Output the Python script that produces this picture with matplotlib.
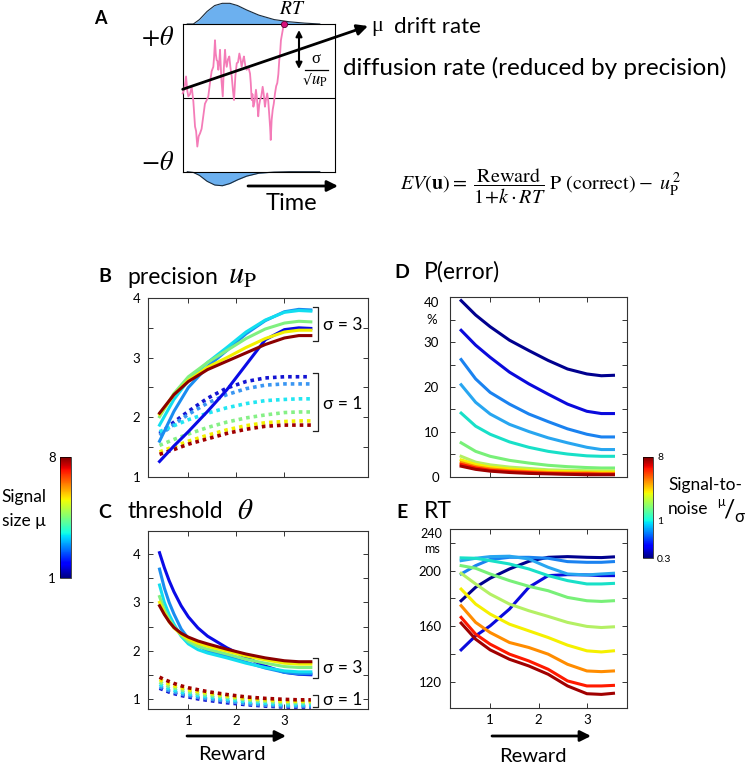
import numpy as np
import matplotlib.pyplot as plt
from matplotlib.colors import Normalize, LogNorm
from matplotlib.cm import ScalarMappable

plt.rcParams['font.family'] = ['Lato', 'DejaVu Sans']
plt.rcParams['mathtext.fontset'] = 'stix'

# ---------------- data ----------------
# panel A: one example evidence trace (time 0..1, bound at +/-1) and RT densities
walk_t = [0.000, 0.011, 0.022, 0.030, 0.037, 0.048, 0.059, 0.070, 0.081, 0.088,
          0.096, 0.105, 0.114, 0.124, 0.135, 0.146, 0.158, 0.168, 0.179, 0.190,
          0.201, 0.206, 0.212, 0.217, 0.223, 0.228, 0.234, 0.240, 0.245, 0.254,
          0.263, 0.270, 0.278, 0.283, 0.289, 0.297, 0.306, 0.314, 0.322, 0.330,
          0.337, 0.346, 0.355, 0.363, 0.372, 0.380, 0.387, 0.395, 0.402, 0.411,
          0.420, 0.431, 0.442, 0.447, 0.453, 0.458, 0.464, 0.472, 0.481, 0.488,
          0.496, 0.502, 0.508, 0.516, 0.525, 0.532, 0.540, 0.547, 0.555, 0.562,
          0.569, 0.574, 0.578, 0.584, 0.591, 0.598, 0.606, 0.614, 0.621, 0.628,
          0.634, 0.640, 0.645, 0.651, 0.657, 0.661, 0.665]
walk_e = [0.06, 0.12, 0.29, 0.10, 0.02, 0.05, 0.15, -0.05, -0.39, -0.45,
          -0.66, -0.52, -0.48, -0.42, -0.25, -0.08, -0.03, 0.02, 0.20, 0.36,
          0.42, 0.55, 0.78, 0.60, 0.51, 0.50, 0.38, 0.48, 0.65, 0.25,
          0.02, 0.40, 0.65, 0.50, 0.42, 0.52, 0.56, 0.40, 0.29, 0.10,
          -0.03, 0.30, 0.47, 0.48, 0.60, 0.52, 0.42, 0.50, 0.56, 0.44,
          0.38, 0.42, 0.33, 0.20, -0.03, 0.05, -0.12, -0.05, 0.11, -0.02,
          -0.25, -0.10, -0.03, 0.02, 0.15, 0.05, -0.12, -0.02, 0.06, -0.05,
          -0.25, -0.40, -0.57, -0.30, -0.16, -0.08, 0.06, 0.16, 0.20, 0.32,
          0.51, 0.62, 0.78, 0.85, 0.92, 0.97, 1.00]
dist_t = [0.03, 0.07, 0.11, 0.16, 0.21, 0.26, 0.31, 0.36, 0.42, 0.50, 0.60, 0.70, 0.80, 0.90]
dist_upper = [0.0, 0.0, 0.06, 0.17, 0.25, 0.28, 0.28, 0.25, 0.19, 0.12, 0.06, 0.03, 0.012, 0.0]
dist_lower = [0.0, 0.01, 0.05, 0.13, 0.18, 0.19, 0.16, 0.11, 0.06, 0.02, 0.005, 0.0, 0.0, 0.0]

reward = [0.4, 0.7, 1.0, 1.4, 1.8, 2.2, 2.6, 3.0, 3.3, 3.55]
reward_fine = [0.4, 0.5, 0.6, 0.7, 0.85, 1.0, 1.2, 1.4, 1.8, 2.2, 2.6, 3.0, 3.3, 3.55]

# B: precision u_P, six signal sizes (low -> high), sigma = 3 (solid) and sigma = 1 (dotted)
prec_sigma3 = [
    [1.26, 1.52, 1.76, 2.10, 2.46, 2.88, 3.30, 3.47, 3.50, 3.49],
    [1.60, 2.10, 2.50, 2.85, 3.12, 3.40, 3.62, 3.77, 3.81, 3.80],
    [1.87, 2.30, 2.62, 2.92, 3.17, 3.43, 3.63, 3.76, 3.79, 3.78],
    [2.01, 2.40, 2.68, 2.92, 3.12, 3.32, 3.48, 3.58, 3.61, 3.60],
    [2.05, 2.38, 2.62, 2.84, 3.00, 3.17, 3.32, 3.43, 3.46, 3.46],
    [2.07, 2.38, 2.60, 2.80, 2.94, 3.08, 3.22, 3.33, 3.37, 3.37],
]
prec_sigma1 = [
    [1.73, 1.92, 2.10, 2.32, 2.49, 2.60, 2.66, 2.68, 2.68, 2.68],
    [1.70, 1.88, 2.05, 2.24, 2.38, 2.48, 2.54, 2.56, 2.56, 2.56],
    [1.76, 1.86, 1.96, 2.07, 2.16, 2.23, 2.28, 2.30, 2.31, 2.31],
    [1.53, 1.63, 1.72, 1.83, 1.92, 1.99, 2.04, 2.08, 2.09, 2.09],
    [1.42, 1.51, 1.60, 1.70, 1.79, 1.86, 1.91, 1.93, 1.94, 1.94],
    [1.38, 1.46, 1.55, 1.64, 1.73, 1.80, 1.85, 1.87, 1.87, 1.87],
]
# C: threshold theta (sampled at reward_fine)
thr_sigma3 = [
    [4.03, 3.72, 3.45, 3.22, 2.93, 2.70, 2.47, 2.30, 2.06, 1.86, 1.68, 1.55, 1.51, 1.50],
    [3.69, 3.30, 3.00, 2.76, 2.45, 2.25, 2.10, 2.00, 1.88, 1.76, 1.64, 1.55, 1.52, 1.52],
    [3.36, 3.00, 2.75, 2.55, 2.30, 2.14, 2.02, 1.95, 1.85, 1.74, 1.65, 1.58, 1.56, 1.56],
    [3.12, 2.85, 2.65, 2.50, 2.32, 2.19, 2.09, 2.03, 1.93, 1.82, 1.74, 1.67, 1.65, 1.65],
    [3.00, 2.78, 2.60, 2.47, 2.34, 2.24, 2.15, 2.09, 1.99, 1.89, 1.81, 1.74, 1.72, 1.72],
    [2.93, 2.75, 2.60, 2.48, 2.36, 2.28, 2.20, 2.14, 2.03, 1.93, 1.85, 1.79, 1.77, 1.77],
]
thr_sigma1 = [
    [1.22, 1.18, 1.14, 1.11, 1.07, 1.04, 1.00, 0.97, 0.92, 0.88, 0.85, 0.83, 0.83, 0.83],
    [1.25, 1.21, 1.17, 1.14, 1.10, 1.07, 1.03, 1.00, 0.95, 0.90, 0.87, 0.85, 0.85, 0.85],
    [1.30, 1.25, 1.21, 1.18, 1.14, 1.11, 1.07, 1.04, 0.99, 0.94, 0.91, 0.88, 0.88, 0.88],
    [1.35, 1.30, 1.26, 1.23, 1.19, 1.15, 1.11, 1.08, 1.03, 0.98, 0.95, 0.92, 0.92, 0.92],
    [1.40, 1.35, 1.31, 1.27, 1.23, 1.19, 1.15, 1.12, 1.06, 1.01, 0.98, 0.95, 0.95, 0.95],
    [1.45, 1.40, 1.36, 1.32, 1.27, 1.23, 1.19, 1.15, 1.09, 1.04, 1.01, 0.99, 0.98, 0.98],
]
# D: P(error) in %, eleven signal-to-noise levels (0.3 -> 8)
perror = [
    [39.2, 36.0, 33.4, 30.4, 28.1, 25.9, 24.0, 22.9, 22.5, 22.6],
    [32.6, 29.3, 26.6, 23.3, 20.7, 18.4, 16.2, 14.6, 14.1, 14.1],
    [26.1, 21.8, 18.8, 16.2, 14.0, 12.3, 10.7, 9.5, 8.9, 8.9],
    [20.5, 16.6, 14.0, 11.7, 10.1, 8.7, 7.6, 6.6, 6.1, 6.1],
    [14.2, 11.3, 9.5, 7.8, 6.6, 5.7, 5.1, 4.7, 4.6, 4.6],
    [7.6, 5.7, 4.6, 3.7, 3.1, 2.6, 2.3, 2.1, 2.0, 2.0],
    [4.6, 3.3, 2.7, 2.2, 1.9, 1.6, 1.5, 1.4, 1.4, 1.4],
    [3.8, 2.8, 2.2, 1.8, 1.5, 1.3, 1.2, 1.1, 1.1, 1.1],
    [3.2, 2.3, 1.8, 1.4, 1.2, 1.0, 0.9, 0.9, 0.8, 0.8],
    [2.8, 2.0, 1.5, 1.2, 1.0, 0.8, 0.7, 0.7, 0.6, 0.6],
    [2.4, 1.7, 1.3, 1.0, 0.8, 0.7, 0.6, 0.5, 0.5, 0.5],
]
# E: RT in ms
rt_ms = [
    [178.3, 188.0, 194.5, 201.2, 206.7, 209.6, 210.1, 209.6, 209.4, 209.9],
    [142.9, 153.0, 160.2, 172.3, 188.0, 196.4, 197.1, 196.9, 196.4, 196.4],
    [197.6, 203.6, 208.0, 209.6, 209.6, 208.9, 206.5, 206.0, 206.0, 206.5],
    [207.2, 208.9, 210.1, 210.4, 208.4, 202.4, 197.6, 196.9, 197.6, 198.1],
    [209.2, 208.9, 207.2, 204.8, 201.2, 196.4, 192.8, 190.4, 190.4, 190.8],
    [203.6, 201.7, 197.6, 192.8, 188.7, 185.5, 180.7, 178.3, 177.8, 178.3],
    [198.1, 190.4, 183.1, 175.9, 171.1, 167.0, 162.7, 159.8, 159.0, 159.5],
    [186.7, 175.9, 168.7, 161.4, 156.6, 151.8, 146.3, 142.2, 141.4, 142.2],
    [174.7, 162.7, 155.4, 148.2, 144.6, 139.8, 132.5, 127.7, 127.2, 127.7],
    [166.3, 154.2, 147.0, 139.8, 134.9, 128.9, 120.5, 116.9, 116.9, 117.3],
    [162.2, 150.6, 142.9, 136.1, 131.3, 125.3, 116.9, 111.3, 110.8, 111.6],
]

size_colors = ['#0a0ae6', '#1a8cf0', '#12def0', '#80f080', '#f2f000', '#8b0000']
dot_colors = ['#1414d2', '#3a96f2', '#22e6f2', '#86f086', '#f2f000', '#a00000']
snr_colors = ['#00008f', '#0a0adc', '#1a82f0', '#28a6f0', '#18e0c8', '#78f078',
              '#b4f064', '#f5f000', '#ff8c00', '#ff1a00', '#a00000']

# ---------------- figure ----------------
W, H = 745, 763
fig = plt.figure(figsize=(W / 100, H / 100), dpi=100)


def box(l, t, r, b):
    return [l / W, 1 - b / H, (r - l) / W, (b - t) / H]


# overlay in pixel coordinates for annotations
ov = fig.add_axes([0, 0, 1, 1], zorder=10)
ov.set_xlim(0, W)
ov.set_ylim(H, 0)
ov.axis('off')


def arrow(x0, y0, x1, y1, style='-|>', lw=2.0, ms=15):
    ov.annotate('', xy=(x1, y1), xytext=(x0, y0),
                arrowprops=dict(arrowstyle=style, color='k', lw=lw, mutation_scale=ms,
                                shrinkA=0, shrinkB=0))


# ---------- panel A ----------
axA = fig.add_axes(box(182.7, 24, 335, 171.7))
axA.set_xlim(0, 1)
axA.set_ylim(-1, 1)
axA.set_xticks([])
axA.set_yticks([])
for s in axA.spines.values():
    s.set_linewidth(0.8)
axA.axhline(0, color='k', lw=0.8)
axA.plot(walk_t, walk_e, color='#f47cb8', lw=1.3, clip_on=False, zorder=3)
axA.plot(walk_t[-1], walk_e[-1], 'o', ms=4.5, mfc='#d6107a', mec='#5a0030', mew=0.6,
         clip_on=False, zorder=5)
up = 1 + np.array(dist_upper)
lo = -1 - np.array(dist_lower)
axA.fill_between(dist_t, 1, up, color='#6cb0ef', lw=0, clip_on=False)
axA.plot(dist_t, up, color='#1a2a3a', lw=0.8, clip_on=False)
axA.fill_between(dist_t, -1, lo, color='#6cb0ef', lw=0, clip_on=False)
axA.plot(dist_t, lo, color='#1a2a3a', lw=0.8, clip_on=False)

arrow(182.7, 89.3, 368, 26, lw=2.0, ms=16)
arrow(299, 30, 299, 69, style='<|-|>', lw=1.5, ms=9)
arrow(248, 186, 338, 186, lw=2.0, ms=16)

ov.text(100, 18, 'A', fontsize=13, fontweight='bold', ha='center', va='center')
ov.text(158, 37, r'$+\theta$', fontsize=19, ha='center', va='center')
ov.text(158, 162, r'$-\theta$', fontsize=19, ha='center', va='center')
ov.text(292, 9, r'$RT$', fontsize=14, ha='center', va='center')
ov.text(377, 26, 'μ', fontsize=16, family='Liberation Serif', ha='center', va='center')
ov.text(394, 27, 'drift rate', fontsize=16, ha='left', va='center')
# sigma / sqrt(u_P)
ov.text(316, 59, 'σ', fontsize=12, family='Liberation Serif', ha='center', va='center')
ov.plot([305, 328], [69.5, 69.5], color='k', lw=0.9)
ov.text(307, 81, '√', fontsize=10, family='DejaVu Serif', ha='center', va='center')
ov.text(319, 81, r'$u_\mathrm{P}$', fontsize=12, ha='center', va='center')
ov.text(343, 68, 'diffusion rate (reduced by precision)', fontsize=17.5, ha='left', va='center')
ov.text(291, 204, 'Time', fontsize=17, ha='center', va='center')
ov.text(541, 186, r'$EV(\mathbf{u})=\ \dfrac{\mathrm{Reward}}{1\!+\!k\cdot RT}\ \mathrm{P}\ (\mathrm{correct})-\ u_\mathrm{P}^{\,2}$',
        fontsize=14.5, ha='center', va='center')


# ---------- panels B-E ----------
def style(ax, xl, yl, yt, ylab, pad, xlabels):
    ax.set_xlim(xl)
    ax.set_ylim(yl)
    ax.set_xticks([1, 2, 3])
    ax.set_xticklabels(['1', '2', '3'] if xlabels else [])
    ax.set_yticks(yt)
    ax.set_yticklabels(ylab)
    ax.tick_params(direction='in', top=True, right=True, length=3.5, width=0.7,
                   labelsize=9.5, color='#333')
    ax.tick_params(axis='y', pad=pad)
    ax.tick_params(axis='x', pad=4)
    for s in ax.spines.values():
        s.set_linewidth(0.8)
        s.set_color('#333')


def bracket(ax, y1, y2, label, ytext):
    ax.plot([3.60, 3.70, 3.70, 3.60], [y1, y1, y2, y2], color='#222', lw=0.9)
    ax.text(3.81, ytext, label, va='center', ha='left', fontsize=12.5)


half_ticks = [1, 1.5, 2, 2.5, 3, 3.5, 4]
half_labels = ['1', '', '2', '', '3', '', '4']
dots = (0, (1, 1.1))

axB = fig.add_axes(box(148, 298, 368, 477))
for vals, c in zip(prec_sigma1, dot_colors):
    axB.plot(reward, vals, color=c, lw=2.6, ls=dots)
for vals, c in zip(prec_sigma3, size_colors):
    axB.plot(reward, vals, color=c, lw=2.2)
style(axB, (0.16, 4.74), (1, 4), half_ticks, half_labels, 5.5, False)
bracket(axB, 3.85, 3.28, 'σ = 3', 3.55)
bracket(axB, 2.74, 1.77, 'σ = 1', 2.22)

axC = fig.add_axes(box(148, 531, 368, 709))
for vals, c in zip(thr_sigma1, dot_colors):
    axC.plot(reward_fine, vals, color=c, lw=2.6, ls=dots)
for vals, c in zip(thr_sigma3, size_colors):
    axC.plot(reward_fine, vals, color=c, lw=2.2)
style(axC, (0.16, 4.74), (0.79, 4.48), half_ticks, half_labels, 5.5, True)
bracket(axC, 1.85, 1.44, 'σ = 3', 1.65)
bracket(axC, 1.09, 0.84, 'σ = 1', 0.97)

axD = fig.add_axes(box(450, 297, 627, 477))
for vals, c in zip(perror, snr_colors):
    axD.plot(reward, vals, color=c, lw=2.2)
style(axD, (0.17, 3.83), (0, 40), list(range(0, 41, 5)),
      ['0', '', '10', '', '20', '', '30', '', ''], 8, False)
ov.text(432, 303, '40', fontsize=9.5, ha='center', va='center')
ov.text(432, 320, '%', fontsize=9.5, ha='center', va='center')

axE = fig.add_axes(box(450, 529, 627, 708))
for vals, c in zip(rt_ms, snr_colors):
    axE.plot(reward, vals, color=c, lw=2.2)
style(axE, (0.17, 3.83), (101, 230), list(range(120, 221, 20)),
      ['120', '', '160', '', '200', ''], 6, True)
ov.text(431, 534, '240', fontsize=9, ha='center', va='center')
ov.text(432, 549, 'ms', fontsize=9, ha='center', va='center')

# panel titles
for lx, y, letter, title in [(105, 277, 'B', 'precision'),
                             (105, 512, 'C', 'threshold'),
                             (402, 272, 'D', 'P(error)'),
                             (402, 512, 'E', 'RT')]:
    ov.text(lx, y, letter, fontsize=14, fontweight='bold', ha='center', va='center')
    ov.text(lx + 22, y, title, fontsize=16.5, ha='left', va='center')
ov.text(228, 276, r'$u_\mathrm{P}$', fontsize=22, ha='left', va='center')
ov.text(237, 511, r'$\theta$', fontsize=21, ha='left', va='center')

arrow(187, 736, 286, 736, lw=2.0, ms=16)
arrow(492, 736, 591, 736, lw=2.0, ms=16)
ov.text(232, 755, 'Reward', fontsize=14.5, ha='center', va='center')
ov.text(533, 756, 'Reward', fontsize=14.5, ha='center', va='center')

# ---------- colour bars ----------
cax1 = fig.add_axes(box(60, 457, 71, 578))
cb1 = fig.colorbar(ScalarMappable(Normalize(1, 8), 'jet'), cax=cax1, ticks=[1, 8])
cax1.yaxis.set_ticks_position('left')
cax1.tick_params(length=0, labelsize=9.5, pad=3)
cb1.outline.set_linewidth(0.5)
ov.text(46, 497, 'Signal', fontsize=12.5, ha='right', va='center')
ov.text(46, 521, 'size μ', fontsize=12.5, ha='right', va='center')

cax2 = fig.add_axes(box(643, 457, 653, 558))
cb2 = fig.colorbar(ScalarMappable(LogNorm(0.3, 8), 'jet'), cax=cax2)
cb2.set_ticks([0.3, 1, 8])
cb2.set_ticklabels(['0.3', '1', '8'])
cax2.minorticks_off()
cax2.tick_params(length=0, labelsize=7.5, pad=3)
cb2.outline.set_linewidth(0.5)
ov.text(668, 485, 'Signal-to-', fontsize=12.5, ha='left', va='center')
ov.text(668, 509, 'noise', fontsize=12.5, ha='left', va='center')
ov.text(721, 502, 'μ', fontsize=9, ha='center', va='center')
ov.text(729, 510, '/', fontsize=18, ha='center', va='center')
ov.text(739, 517, 'σ', fontsize=12, ha='center', va='center')

fig.savefig('out.png', dpi=100)
